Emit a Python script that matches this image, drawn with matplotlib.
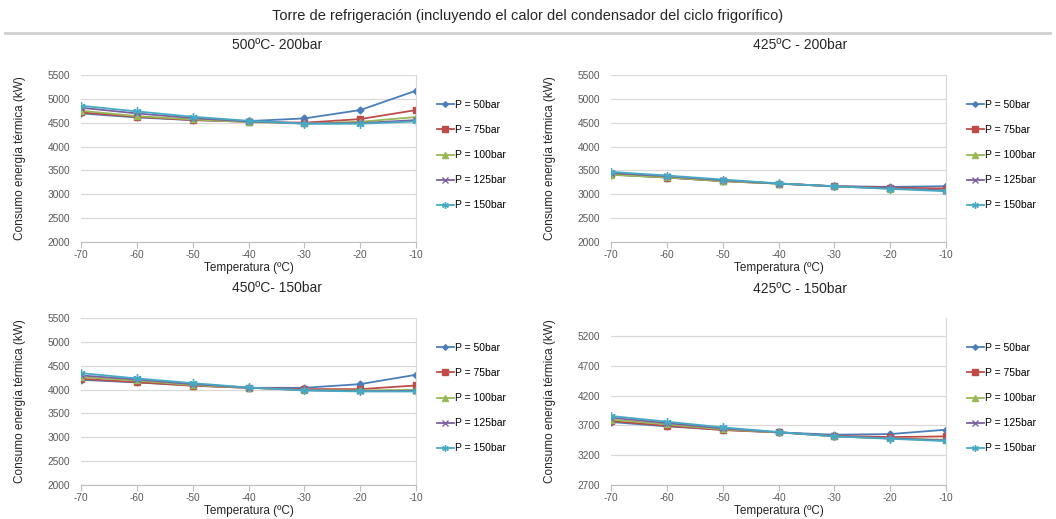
import matplotlib
matplotlib.use('Agg')
import matplotlib.pyplot as plt
import numpy as np

plt.rcParams['font.family'] = ['Liberation Sans', 'DejaVu Sans']
plt.rcParams['axes.unicode_minus'] = False

temps = [-70, -60, -50, -40, -30, -20, -10]
labels = ['P = 50bar', 'P = 75bar', 'P = 100bar', 'P = 125bar', 'P = 150bar']

# 500ºC - 200bar
c500_200 = [
    [4695, 4611, 4555, 4534, 4590, 4765, 5171],
    [4716, 4625, 4555, 4520, 4500, 4576, 4765],
    [4751, 4639, 4569, 4513, 4485, 4520, 4618],
    [4814, 4695, 4597, 4527, 4485, 4492, 4555],
    [4856, 4737, 4625, 4541, 4478, 4478, 4527],
]
# 425ºC - 200bar
c425_200 = [
    [3414, 3351, 3281, 3225, 3169, 3155, 3169],
    [3421, 3351, 3274, 3225, 3169, 3141, 3120],
    [3407, 3355, 3274, 3222, 3166, 3120, 3085],
    [3449, 3379, 3295, 3225, 3166, 3127, 3078],
    [3470, 3393, 3309, 3229, 3166, 3113, 3064],
]
# 450ºC - 150bar
c450_150 = [
    [4205, 4149, 4086, 4037, 4037, 4114, 4310],
    [4226, 4156, 4079, 4037, 4009, 4009, 4086],
    [4261, 4191, 4093, 4037, 3988, 3981, 3995],
    [4296, 4212, 4114, 4040, 3988, 3967, 3974],
    [4345, 4233, 4135, 4044, 3981, 3960, 3960],
]
# 425ºC - 150bar
c425_150 = [
    [3756, 3683, 3627, 3582, 3543, 3554, 3627],
    [3773, 3694, 3621, 3582, 3526, 3503, 3515],
    [3796, 3717, 3633, 3582, 3515, 3481, 3458],
    [3829, 3739, 3649, 3585, 3518, 3481, 3447],
    [3857, 3762, 3666, 3588, 3515, 3475, 3436],
]

colors = ['#4A7EBB', '#BE4B48', '#98B954', '#7D60A0', '#46AAC5']
markers = ['D', 's', '^', 'x', (6, 2, 0)]
msizes = [3.5, 5, 5, 5, 6]

W, H = 1056, 519
fig = plt.figure(figsize=(W / 100, H / 100), dpi=100)

fig.text(528 / W, 1 - 16 / H, 'Torre de refrigeración (incluyendo el calor del condensador del ciclo frigorífico)',
         ha='center', va='center', fontsize=10.5, color='#262626')
fig.add_artist(plt.Line2D([5 / W, 1050 / W], [1 - 33 / H, 1 - 33 / H], color='#D0D0D0', lw=2))

panels = [
    ('500ºC- 200bar', c500_200, 81, 75, (2000, 5500), np.arange(2000, 5501, 500), 277, 45),
    ('425ºC - 200bar', c425_200, 611, 75, (2000, 5500), np.arange(2000, 5501, 500), 800, 45),
    ('450ºC- 150bar', c450_150, 81, 318, (2000, 5500), np.arange(2000, 5501, 500), 277, 288),
    ('425ºC - 150bar', c425_150, 611, 318, (2700, 5500), np.arange(2700, 5201, 500), 800, 289),
]

for title, data, x0, y0, ylim, yticks, tx, ty in panels:
    ax = fig.add_axes([x0 / W, 1 - (y0 + 167) / H, 335 / W, 167 / H])
    for i, series in enumerate(data):
        ax.plot(temps, series, color=colors[i], marker=markers[i], markersize=msizes[i],
                lw=1.3, label=labels[i], markeredgewidth=1.0)
    ax.set_xlim(-70, -10)
    ax.set_ylim(*ylim)
    ax.set_xticks(temps)
    ax.set_yticks(yticks)
    ax.grid(axis='y', color='#D9D9D9', lw=0.9)
    ax.set_axisbelow(True)
    for s in ['top', 'left']:
        ax.spines[s].set_visible(False)
    ax.spines['right'].set_color('#D9D9D9')
    ax.spines['bottom'].set_color('#BFBFBF')
    ax.tick_params(axis='y', length=0, labelsize=7.3, labelcolor='#595959', pad=8)
    ax.tick_params(axis='x', length=4, direction='out', color='#BFBFBF', labelsize=7.3,
                   labelcolor='#595959', pad=2)
    ax.set_xlabel('Temperatura (ºC)', fontsize=8.5, color='#262626', labelpad=1)
    ax.set_ylabel('Consumo energía térmica (kW)', fontsize=8.5, color='#262626', labelpad=15)
    fig.text(tx / W, 1 - ty / H, title, ha='center', va='center', fontsize=10, color='#262626')
    ax.legend(loc='center left', bbox_to_anchor=(1.05, 0.52), frameon=False, fontsize=7.5,
              labelspacing=1.45, handlelength=1.6, handletextpad=0.1, borderaxespad=0,
              markerscale=0.8)

fig.savefig('out.png', dpi=100)
